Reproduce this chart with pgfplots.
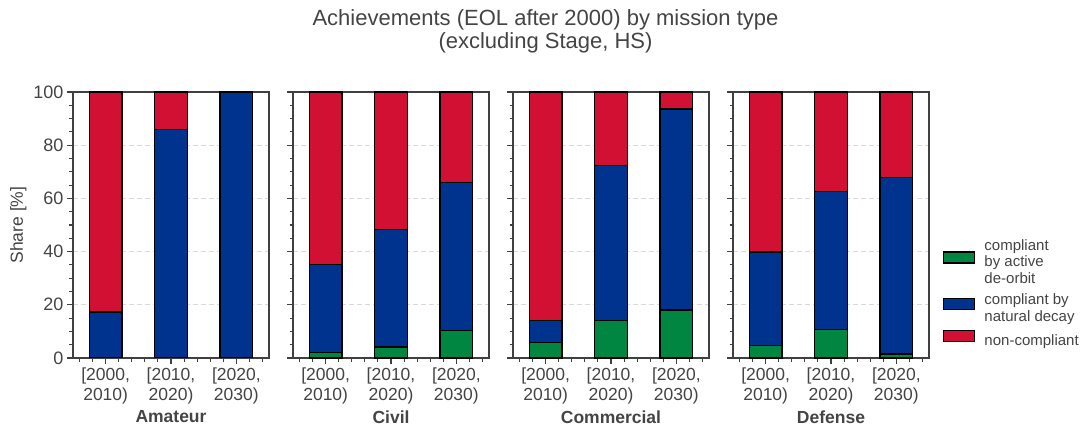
\documentclass[border=0pt]{standalone}
\usepackage{pgfplots}
\pgfplotsset{compat=1.18}
\usepackage{pgfplotstable}
\usepackage{fontspec}
\setmainfont{Liberation Sans}
\definecolor{cgreen}{RGB}{0,134,64}
\definecolor{cblue}{RGB}{0,51,141}
\definecolor{cred}{RGB}{210,16,52}
\definecolor{txt}{RGB}{68,68,68}
\definecolor{axc}{RGB}{64,64,64}

\pgfplotstableread{
x g b r
0 0 17.3 82.7
1 0 86.0 14.0
2 0 100 0
}\amateur
\pgfplotstableread{
x g b r
0 2.0 33.2 64.8
1 4.1 44.1 51.8
2 10.4 55.5 34.1
}\civil
\pgfplotstableread{
x g b r
0 5.8 8.2 86.0
1 14.0 58.3 27.7
2 18.0 75.6 6.4
}\commercial
\pgfplotstableread{
x g b r
0 4.8 35.0 60.2
1 10.7 52.0 37.3
2 1.5 66.4 32.1
}\defense

\pgfplotsset{panel/.style={
  scale only axis, width=196bp, height=266bp, anchor=south west,
  ybar stacked, bar width=0.5,
  xmin=-0.5, xmax=2.5, ymin=0, ymax=100,
  xtick={0,1,2}, xticklabels={{[2000,\\2010)},{[2010,\\2020)},{[2020,\\2030)}},
  minor xtick={-0.4,-0.2,0.2,0.4,0.6,0.8,1.2,1.4,1.6,1.8,2.2,2.4},
  ytick={0,20,...,100}, minor ytick={5,10,15,25,30,35,45,50,55,65,70,75,85,90,95},
  tick align=outside, tick pos=left,
  major tick length=6bp, minor tick length=3.5bp,
  every tick/.style={axc, line width=1.1bp},
  axis line style={axc, line width=1.4bp},
  ymajorgrids, grid style={dash pattern=on 5bp off 3bp, black!15, line width=0.8bp},
  /pgf/number format/assume math mode=true,
  yticklabel style={font=\fontsize{18bp}{21bp}\selectfont, text=txt},
  xticklabel style={font=\fontsize{17.5bp}{20bp}\selectfont, text=txt, align=center},
  ylabel style={font=\fontsize{17.5bp}{21bp}\selectfont, text=txt},
  xlabel style={font=\fontsize{17.5bp}{21bp}\selectfont\bfseries, text=txt},
  every axis plot/.append style={draw=black, line width=1.3bp},
}}

\begin{document}
\begin{tikzpicture}
\useasboundingbox (0,0) rectangle (1091bp,430bp);
\node[anchor=base, text=txt, font=\fontsize{22bp}{24bp}\selectfont] at (545.5bp,404bp) {Achievements (EOL after 2000) by mission type};
\node[anchor=base, text=txt, font=\fontsize{22bp}{24bp}\selectfont] at (545.5bp,381bp) {(excluding Stage, HS)};

\begin{axis}[panel, at={(73bp,72bp)}, xlabel={Amateur}, ylabel={Share [\%]}]
\addplot[fill=cgreen] table[x=x,y=g]{\amateur};
\addplot[fill=cblue] table[x=x,y=b]{\amateur};
\addplot[fill=cred] table[x=x,y=r]{\amateur};
\end{axis}

\begin{axis}[panel, at={(293bp,72bp)}, xlabel={Civil}, yticklabels={}]
\addplot[fill=cgreen] table[x=x,y=g]{\civil};
\addplot[fill=cblue] table[x=x,y=b]{\civil};
\addplot[fill=cred] table[x=x,y=r]{\civil};
\end{axis}

\begin{axis}[panel, at={(513bp,72bp)}, xlabel={Commercial}, yticklabels={}]
\addplot[fill=cgreen] table[x=x,y=g]{\commercial};
\addplot[fill=cblue] table[x=x,y=b]{\commercial};
\addplot[fill=cred] table[x=x,y=r]{\commercial};
\end{axis}

\begin{axis}[panel, at={(733bp,72bp)}, xlabel={Defense}, yticklabels={},
  legend style={draw=none, fill=none, at={(1,0)}, anchor=south west, xshift=11bp, yshift=7bp,
    font=\fontsize{15bp}{16.7bp}\selectfont, text=txt, nodes={align=left}, row sep=5bp, column sep=7bp},
  legend cell align=left,
  legend image code/.code={\draw[#1, draw=black, line width=1.3bp] (0bp,-1bp) rectangle (31bp,10bp);}]
\addplot[fill=cgreen] table[x=x,y=g]{\defense};
\addplot[fill=cblue] table[x=x,y=b]{\defense};
\addplot[fill=cred] table[x=x,y=r]{\defense};
\legend{{compliant\\by active\\de-orbit},{compliant by\\natural decay},{non-compliant}}
\end{axis}
\end{tikzpicture}
\end{document}
